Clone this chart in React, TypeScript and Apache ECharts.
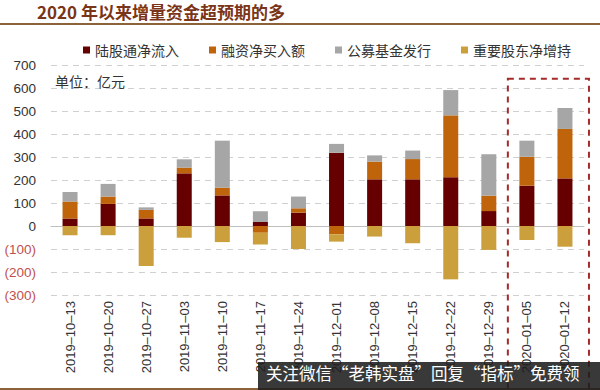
import React, { useEffect, useRef } from "react";
import * as echarts from "echarts";

const categories = [
  "2019-10-13", "2019-10-20", "2019-10-27", "2019-11-03", "2019-11-10",
  "2019-11-17", "2019-11-24", "2019-12-01", "2019-12-08", "2019-12-15",
  "2019-12-22", "2019-12-29", "2020-01-05", "2020-01-12",
];
const northbound = [33, 96, 33, 229, 133, 17, 58, 319, 203, 203, 212, 65, 175, 207];
const marginBuy = [74, 32, 37, 25, 34, -29, 19, -36, 77, 88, 269, 67, 126, 215];
const fundIssue = [41, 55, 11, 36, 204, 47, 51, 38, 27, 37, 110, 180, 70, 91];
const holderNet = [-40, -40, -174, -51, -70, -51, -100, -32, -46, -75, -232, -104, -61, -90];
const seriesNames = ["陆股通净流入", "融资净买入额", "公募基金发行", "重要股东净增持"];
const colors = ["#660000", "#C0640C", "#A6A6A6", "#CBA03C"];

export default function App() {
  const ref = useRef<HTMLDivElement>(null);
  useEffect(() => {
    const chart = echarts.init(ref.current!, null, { renderer: "svg" });
    const datasets = [northbound, marginBuy, fundIssue, holderNet];
    chart.setOption({
      animation: false,
      backgroundColor: "#ffffff",
      color: colors,
      legend: {
        left: 78,
        top: 38,
        itemWidth: 7,
        itemHeight: 7,
        itemGap: 30,
        icon: "rect",
        textStyle: { fontSize: 14, color: "#333", fontFamily: "Noto Sans CJK SC" },
        data: seriesNames,
      },
      grid: { left: 51, right: 16, top: 65, bottom: 95 },
      xAxis: {
        type: "category",
        data: categories,
        axisLine: { show: true, lineStyle: { color: "#BFBFBF", width: 1 } },
        axisTick: { show: false },
        axisLabel: {
          rotate: 90,
          fontSize: 13,
          color: "#333",
          fontFamily: "Arial, Liberation Sans",
          margin: 6,
          interval: 0,
          formatter: (v: string) => v.replace(/-/g, "–"),
        },
      },
      yAxis: {
        type: "value",
        min: -300,
        max: 700,
        interval: 100,
        axisLine: { show: false },
        axisTick: { show: false },
        splitLine: { lineStyle: { color: "#D0D0D0", type: [6, 5], width: 1 } },
        axisLabel: {
          fontSize: 13.5,
          margin: 15,
          color: "#333",
          fontFamily: "Arial, Liberation Sans",
          formatter: (v: number) => (v < 0 ? "{n|(" + Math.abs(v) + ")}" : String(v)),
          rich: { n: { color: "#C0504D", fontSize: 13.5, fontFamily: "Arial, Liberation Sans" } },
        },
      },
      series: seriesNames.map((name, i) => ({
        name,
        type: "bar",
        stack: "total",
        barWidth: 15,
        data: datasets[i],
        itemStyle: { color: colors[i] },
      })),
    });
    const leftX = ((chart.convertToPixel({ xAxisIndex: 0 }, 11) as number) + (chart.convertToPixel({ xAxisIndex: 0 }, 12) as number)) / 2;
    const rightX = (chart.convertToPixel({ xAxisIndex: 0 }, 13) as number) + 24;
    const topY = chart.convertToPixel({ yAxisIndex: 0 }, 640) as number;
    chart.setOption({
      graphic: [
        {
          id: "title",
          type: "text",
          left: 37,
          top: 3,
          style: {
            text: "2020 年以来增量资金超预期的多",
            fontSize: 17,
            fontWeight: "bold",
            fill: "#7A3518",
            fontFamily: "Noto Sans CJK SC",
          },
        },
        {
          id: "titleLine",
          type: "line",
          shape: { x1: 0, y1: 24, x2: 600, y2: 24 },
          style: { stroke: "#8C6239", lineWidth: 2 },
        },
        {
          id: "bottomLine",
          type: "line",
          shape: { x1: 0, y1: 389, x2: 600, y2: 389 },
          style: { stroke: "#8C6239", lineWidth: 2 },
        },
        {
          id: "unit",
          type: "text",
          left: 55,
          top: 74,
          style: { text: "单位：亿元", fontSize: 14, fill: "#333", fontFamily: "Noto Sans CJK SC" },
        },
        {
          id: "box",
          type: "rect",
          shape: { x: leftX, y: topY, width: rightX - leftX, height: 400 - topY },
          style: { fill: "none", stroke: "#A52A2A", lineWidth: 2, lineDash: [6, 5] },
          z: 10,
        },
        {
          id: "wmBg",
          type: "rect",
          shape: { x: 258, y: 362, width: 342, height: 28 },
          style: { fill: "rgba(30,30,30,0.88)" },
          z: 20,
        },
        {
          id: "wmText",
          type: "text",
          left: 266,
          top: 365,
          z: 21,
          style: {
            text: "关注微信“老韩实盘”回复“指标”免费领",
            fontSize: 16.5,
            fill: "#ffffff",
            fontFamily: "Noto Sans CJK SC",
          },
        },
      ],
    });
    return () => chart.dispose();
  }, []);
  return (
    <div
      ref={ref}
      style={{ position: "fixed", left: 0, top: 0, width: 600, height: 390 }}
    />
  );
}
